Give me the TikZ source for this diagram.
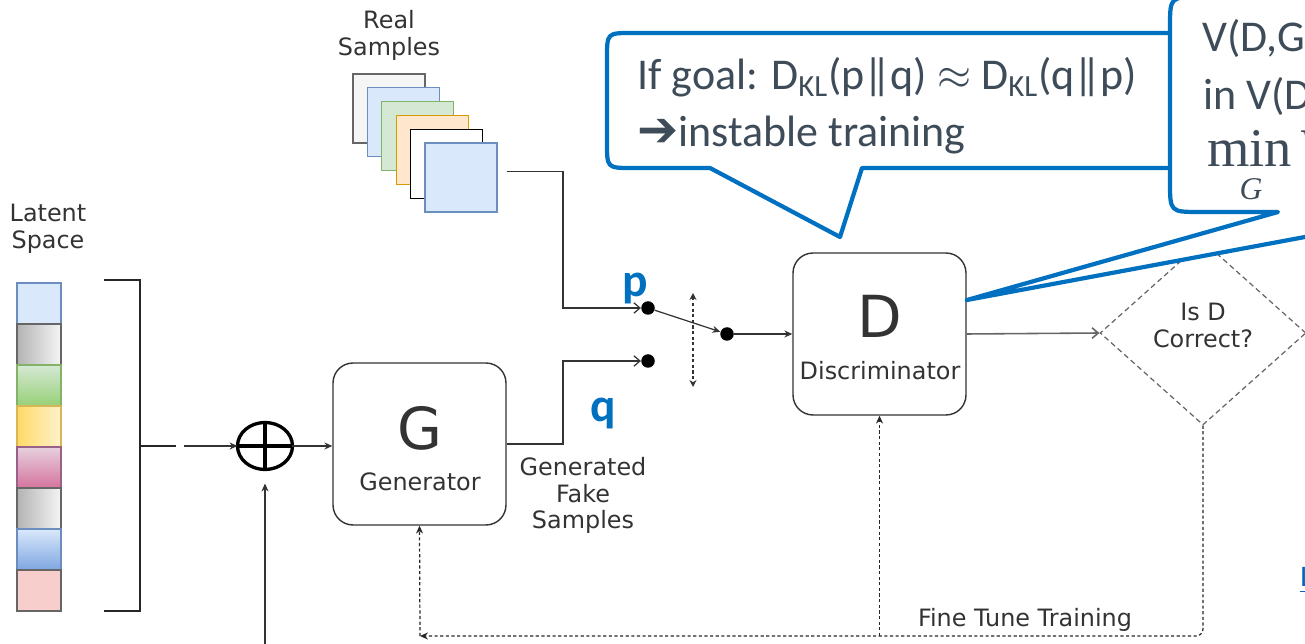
\documentclass[tikz,border=0pt]{standalone}
\usepackage{fontspec}
\usepackage{amsmath}
\usetikzlibrary{shapes.geometric,arrows.meta,positioning,calc}
\newfontfamily\dvsans{DejaVu Sans}
\newfontfamily\carlito{Carlito}
\newfontfamily\tmserif{Liberation Serif}
\definecolor{PB}{HTML}{0070C0}
\definecolor{TX}{HTML}{333333}
\definecolor{CT}{HTML}{3E4C59}
\definecolor{LK}{HTML}{0563C1}
%% cell and sample colours
\definecolor{BLf}{HTML}{DAE8FC}
\definecolor{BLd}{HTML}{6C8EBF}
\definecolor{BLk}{HTML}{7EA6E0}
\definecolor{GYf}{HTML}{F5F5F5}
\definecolor{GYk}{HTML}{B3B3B3}
\definecolor{GYd}{HTML}{666666}
\definecolor{GRf}{HTML}{D5E8D4}
\definecolor{GRk}{HTML}{97D077}
\definecolor{GRd}{HTML}{82B366}
\definecolor{YEf}{HTML}{FFF2CC}
\definecolor{YEk}{HTML}{FFD966}
\definecolor{YEd}{HTML}{D6B656}
\definecolor{PKf}{HTML}{E6D0DE}
\definecolor{PKk}{HTML}{D5739D}
\definecolor{PKd}{HTML}{996185}
\definecolor{RDf}{HTML}{F8CECC}
\definecolor{ORf}{HTML}{FFE6CC}
\definecolor{ORd}{HTML}{D79B00}
\definecolor{WHf}{HTML}{FFFFFF}
\definecolor{BKd}{HTML}{000000}

\newcommand{\dbar}{\kern-0.5pt|\kern-7pt|\kern-0.5pt}

\tikzset{
  lbl/.style={font=\dvsans\fontsize{13.6}{15.2}\selectfont, text=TX,
              align=center, inner sep=0pt},
  big/.style={font=\dvsans\fontsize{33}{33}\selectfont, text=TX,
              inner sep=0pt, anchor=base},
  blk/.style={draw=TX, line width=0.8pt, rounded corners=0.4cm, fill=white,
              minimum width=3.46cm, minimum height=3.24cm, inner sep=0pt},
  dot/.style={circle, fill=black, inner sep=0pt, minimum size=0.27cm},
  conn/.style={draw=black!80, line width=0.7pt},
  ftip/.style={-{Stealth[length=4.5pt,width=4pt]}},
  otip/.style={-{Straight Barb[length=3.5pt,width=6pt]}},
  fine/.style={draw=black!85, line width=0.7pt, dash pattern=on 1.8pt off 1.4pt},
  note/.style={draw=PB, line width=2.4pt, fill=white, line join=round},
  ctx/.style={font=\carlito\fontsize{25}{32}\selectfont, text=CT,
              inner sep=0pt, anchor=base west},
  mth/.style={font=\tmserif\fontsize{31}{31}\selectfont, text=CT,
              inner sep=0pt, anchor=base west},
  pq/.style={font=\carlito\bfseries\fontsize{27}{27}\selectfont, text=PB,
             inner sep=0pt, anchor=base},
  cA/.style={fill=BLf, draw=BLd},
  cB/.style={left color=GYk, right color=GYf, draw=GYd},
  cC/.style={top color=GRf, bottom color=GRk, draw=GRd},
  cD/.style={left color=YEk, right color=YEf, draw=YEd},
  cE/.style={top color=PKf, bottom color=PKk, draw=PKd},
  cF/.style={top color=BLf, bottom color=BLk, draw=BLd},
  cG/.style={fill=RDf, draw=GYd},
}

\begin{document}
\begin{tikzpicture}[x=0.02cm, y=-0.02cm]
  \useasboundingbox (0,0) rectangle (1305,644);
  \clip (0,0) rectangle (1305,644);

  %% latent vector
  \node[lbl, anchor=north] (latlbl) at (48,204) {Latent\\Space};
  \foreach \i/\st in {0/cA,1/cB,2/cC,3/cD,4/cE,5/cB,6/cF,7/cG}{
    \path[\st, line width=0.7pt] (17,283+41*\i) rectangle ++(44,41);
  }
  \draw[line width=1.4pt, black!85]
    (104,280) -- (140,280) -- (140,611) -- (104,611)
    (140,446) -- (176,446);
  \coordinate (lat) at (184,446);
  \coordinate (noise) at (265,644);

  %% sum
  \node[ellipse, draw, line width=1.9pt, outer sep=0pt, inner sep=0pt,
        minimum width=1.1cm, minimum height=0.94cm] (sum) at (265,446) {};
  \draw[line width=1.9pt] (sum.north) -- (sum.south) (sum.west) -- (sum.east);

  %% generator
  \node[blk] (gen) at (419.5,444) {};
  \node[big] (genl) at (420,450) {G};
  \node[lbl, anchor=base] (gent) at (420,491) {Generator};

  %% real samples
  \node[lbl, anchor=north] (reallbl) at (389,10) {Real\\Samples};
  \foreach \k/\fc/\dc in {0/GYf/GYd,1/BLf/BLd,2/GRf/GRd,3/ORf/ORd,4/WHf/BKd,5/BLf/BLd}{
    \node[draw=\dc, fill=\fc, line width=0.7pt, inner sep=0pt,
          minimum width=1.44cm, minimum height=1.38cm]
      (real\k) at (389+14.4*\k, 108.5+13.8*\k) {};
  }

  %% switch
  \node[dot] (pdot) at (648,308) {};
  \node[dot] (qdot) at (648,361) {};
  \node[dot] (odot) at (727,334) {};
  \coordinate (mux) at (563,334);
  \coordinate (swu) at (693,293);
  \coordinate (swd) at (693,387);
  \node[pq] (plbl) at (635,297) {p};
  \node[pq] (qlbl) at (603,422) {q};
  \node[lbl, anchor=north] (fakelbl) at (583,457) {Generated\\Fake\\Samples};

  %% discriminator
  \node[blk] (dis) at (879.5,334) {};
  \node[big] (disl) at (880,338) {D};
  \node[lbl, anchor=base] (dist) at (880,380) {Discriminator};

  %% check
  \node[diamond, draw=black!60, line width=0.7pt, dash pattern=on 3pt off 2pt,
        aspect=1.12, inner sep=0pt, minimum width=4.12cm,
        minimum height=3.68cm] (chk) at (1203,333) {};
  \node[lbl, anchor=north] (chkt) at (1203,303) {Is D\\Correct?};
  \coordinate (ftl) at (420,636);
  \node[lbl, anchor=base] (ftlbl) at (1025,627) {Fine Tune Training};

  %% connectors
  \draw[conn, ftip] (lat) -- (sum);
  \draw[conn, ftip, shorten >=8pt] (noise) -- (sum.south);
  \draw[conn, ftip] (sum.east) -- (sum -| gen.west);
  \draw[conn, otip] ([shift={(9,-6)}]real5.east) -| (mux |- pdot) -- (pdot);
  \draw[conn, otip] (gen.east) -| (mux |- qdot) -- (qdot);
  \draw[conn, ftip] (pdot) -- (odot);
  \draw[conn, ftip] (odot) -- (dis.west);
  \draw[conn, dash pattern=on 1.8pt off 1.4pt,
        {Stealth[length=4pt,width=4pt]}-{Stealth[length=4pt,width=4pt]}] (swu) -- (swd);
  \draw[draw=black!60, line width=0.9pt, otip] (dis.east) -- (chk.west);
  \draw[fine, ftip, rounded corners=4pt] (chk.south) |- (ftl);
  \draw[fine, ftip] (ftl) -- (gen.south);
  \draw[fine, ftip] (dis.south |- ftl) -- (dis.south);

  %% callouts
  \draw[note] (840,237) -- (710,168) -- (632,168) .. controls (607,168) .. (607,143)
    -- (607,58) .. controls (607,33) .. (632,33) -- (1165,33)
    .. controls (1190,33) .. (1190,58) -- (1190,143)
    .. controls (1190,168) .. (1165,168) -- (862,168) -- cycle;
  \node[ctx] (goal) at (637,90) {If goal: D\textsubscript{KL}(p\dbar q) $\approx$ D\textsubscript{KL}(q\dbar p)};
  \node[ctx] (inst) at (637,147) {{\dvsans\bfseries\fontsize{28}{28}\selectfont ➔}instable training};

  \draw[note] (967,300) -- (1278,212) -- (1200,212) .. controls (1170,212) .. (1170,182)
    -- (1170,27) .. controls (1170,-3) .. (1200,-3) -- (1600,-3)
    -- (1600,212) -- (1439,212) -- cycle;
  \node[ctx] (vdg) at (1202,52) {V(D,G)};
  \node[ctx] (invdg) at (1203,110) {in V(D,G)};
  \node[mth] (vmin) at (1207,167) {min\kern0.12em\itshape V};
  \node[mth, font=\tmserif\itshape\fontsize{18}{18}\selectfont, anchor=base]
    (vming) at (1251,200) {G};

  \node[font=\carlito\fontsize{17}{17}\selectfont, text=LK, inner sep=0pt,
        anchor=base west] (lnk) at (1300,587) {\underline{Link}};
\end{tikzpicture}
\end{document}
